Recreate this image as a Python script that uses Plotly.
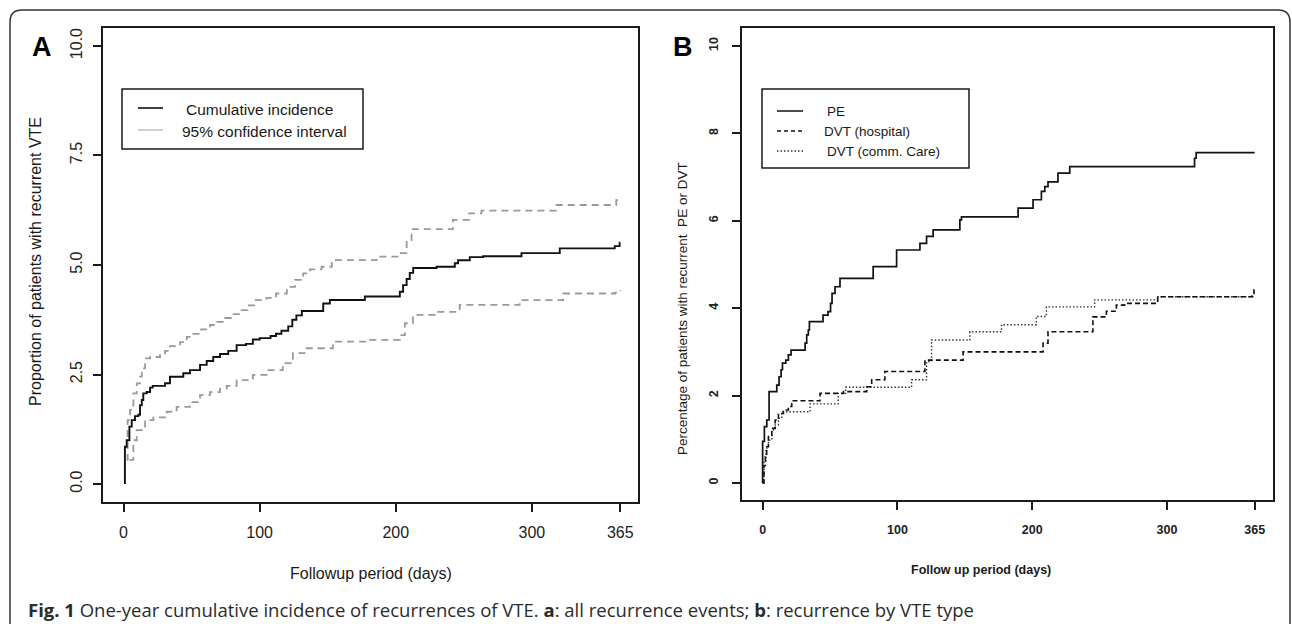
import plotly.graph_objects as go

# ---------------- data ----------------
# Panel A: cumulative incidence of recurrent VTE (%), step function
a_days = [1, 1, 2.3, 4.3, 6, 8.4, 10.9, 12.1, 13.4, 14.5, 17, 19.5, 21.4, 30.5, 34.1, 43.9, 48.8,
          56.2, 61.1, 65.9, 70.9, 76.9, 83.1, 90, 95, 100, 108, 112, 116, 121, 124, 127, 131,
          146.7, 151.6, 177.3, 203, 205.4, 208, 210.3, 212.8, 230, 243.4, 245.8, 254.4, 264.2,
          292.4, 320.5, 360.9, 364.5, 365]
a_cum = [0, 0.85, 1.0, 1.31, 1.46, 1.55, 1.58, 1.8, 1.92, 2.07, 2.1, 2.2, 2.24, 2.3, 2.45, 2.53, 2.6,
         2.72, 2.81, 2.9, 2.97, 3.04, 3.17, 3.2, 3.3, 3.33, 3.38, 3.43, 3.5, 3.6, 3.75, 3.85, 3.95,
         4.12, 4.2, 4.28, 4.39, 4.54, 4.68, 4.82, 4.93, 4.96, 5.04, 5.11, 5.18, 5.2,
         5.27, 5.38, 5.43, 5.51, 5.51]

a_up_days = [2.3, 3, 4.8, 7.2, 9.7, 12.1, 13.4, 15.8, 19.5, 26.8, 30.5, 34.1, 41.5, 46.4, 51.2, 57,
             63.5, 69, 74.5, 80, 85.5, 91, 97, 105, 112, 120, 126, 132, 137, 145.5, 153, 186, 203,
             208, 211.6, 242, 254, 263, 318, 362, 365]
a_upper = [0.55, 1.46, 1.69, 2.07, 2.3, 2.45, 2.64, 2.87, 2.9, 2.94, 3.04, 3.15, 3.24, 3.36, 3.43, 3.53,
           3.63, 3.7, 3.79, 3.88, 3.97, 4.08, 4.2, 4.25, 4.35, 4.5, 4.66, 4.81, 4.9, 4.96, 5.11, 5.19, 5.27,
           5.57, 5.82, 6.03, 6.18, 6.24, 6.37, 6.48, 6.52]

a_lo_days = [4.3, 7.2, 9.7, 13.4, 15.8, 21.9, 31.7, 39, 48.8, 56.2, 63.5, 70.9, 75.8, 83.1, 95, 105,
             117, 124.4, 134.5, 153.8, 178.6, 203, 206.7, 212.6, 230, 247, 291, 323, 361, 365]
a_lower = [0.55, 1.0, 1.23, 1.31, 1.46, 1.52, 1.65, 1.76, 1.87, 2.03, 2.1, 2.18, 2.24, 2.37, 2.49, 2.6,
           2.76, 2.99, 3.1, 3.25, 3.29, 3.4, 3.67, 3.86, 3.93, 4.09, 4.2, 4.35, 4.37, 4.43]

# Panel B: recurrence by VTE type (%)
pe_days = [0, 0, 1.3, 3.1, 4.8, 10.5, 12.2, 13.7, 14.7, 17.2, 19.1, 21.1, 31.5, 32.7, 33.9, 34.7,
           44.8, 48.5, 50.4, 51.5, 53.7, 57.4, 82, 99.4, 116.7, 121.6, 126.5, 146.3, 147.5, 189.5,
           200.6, 206.8, 209.3, 211.7, 219.1, 227.8, 320.4, 321.6, 365]
pe_vals = [0, 0.95, 1.29, 1.44, 2.09, 2.24, 2.43, 2.59, 2.74, 2.81, 2.93, 3.04, 3.2, 3.39, 3.5, 3.69,
           3.84, 3.92, 4.11, 4.34, 4.49, 4.68, 4.95, 5.33, 5.48, 5.64, 5.79, 6.02, 6.09, 6.29,
           6.48, 6.67, 6.78, 6.89, 7.09, 7.24, 7.43, 7.56, 7.56]

hosp_days = [0, 1, 2, 3, 4.3, 6.8, 9.3, 11.7, 15.4, 19.1, 21.6, 42.6, 60, 77.2, 80.9, 90.7, 120.4,
             148.7, 208, 211.7, 245, 255, 262.4, 268.5, 293, 363, 364.5, 365]
hosp_vals = [0, 0.4, 0.6, 0.83, 1.06, 1.25, 1.44, 1.59, 1.67, 1.75, 1.88, 2.05, 2.09, 2.2, 2.36, 2.55, 2.81,
             3.0, 3.2, 3.46, 3.8, 3.93, 4.07, 4.11, 4.26, 4.3, 4.44, 4.44]

comm_days = [0, 1, 2.5, 4.3, 6.8, 9.3, 11.7, 14.2, 35.2, 56.1, 61.6, 110.5, 121.6, 125.3, 153.7,
             177.2, 203, 210.5, 246.3, 293.2, 365]
comm_vals = [0, 0.5, 0.8, 0.98, 1.21, 1.33, 1.48, 1.63, 1.81, 2.05, 2.19, 2.36, 2.78, 3.27, 3.46,
             3.62, 3.81, 4.03, 4.19, 4.26, 4.26]

x_ticks = [0, 100, 200, 300, 365]
a_y_ticks = [0, 2.5, 5, 7.5, 10]
a_y_labels = ["0.0", "2.5", "5.0", "7.5", "10.0"]
b_y_ticks = [0, 2, 4, 6, 8, 10]
b_y_labels = ["0", "2", "4", "6", "8", "10"]

# ---------------- layout helpers ----------------
W, H = 1292, 624
def px(x):
    return x / W
def py(y):
    return 1 - y / H

FONT = "Liberation Sans, Arial, Helvetica, sans-serif"
AX = "#1a1a1a"

fig = go.Figure()

# Panel A traces
fig.add_trace(go.Scatter(x=a_up_days, y=a_upper, mode="lines", line_shape="hv",
                         line=dict(color="#9a9a9a", width=1.8, dash="7px,5px"),
                         xaxis="x", yaxis="y", showlegend=False))
fig.add_trace(go.Scatter(x=a_lo_days, y=a_lower, mode="lines", line_shape="hv",
                         line=dict(color="#9a9a9a", width=1.8, dash="7px,5px"),
                         xaxis="x", yaxis="y", showlegend=False))
fig.add_trace(go.Scatter(x=a_days, y=a_cum, mode="lines", line_shape="hv",
                         line=dict(color="#111111", width=1.9),
                         xaxis="x", yaxis="y", showlegend=False))

# Panel B traces
fig.add_trace(go.Scatter(x=comm_days, y=comm_vals, mode="lines", line_shape="hv",
                         line=dict(color="#333333", width=1.4, dash="1.5px,2px"),
                         xaxis="x2", yaxis="y2", showlegend=False))
fig.add_trace(go.Scatter(x=hosp_days, y=hosp_vals, mode="lines", line_shape="hv",
                         line=dict(color="#111111", width=1.6, dash="5px,3px"),
                         xaxis="x2", yaxis="y2", showlegend=False))
fig.add_trace(go.Scatter(x=pe_days, y=pe_vals, mode="lines", line_shape="hv",
                         line=dict(color="#111111", width=1.7),
                         xaxis="x2", yaxis="y2", showlegend=False))

axis_common = dict(showline=True, mirror=True, linecolor=AX, linewidth=1.5,
                   ticks="outside", ticklen=8, tickwidth=1.5, tickcolor=AX,
                   showgrid=False, zeroline=False, fixedrange=True)

fig.update_layout(
    width=W, height=H, margin=dict(l=0, r=0, t=0, b=0),
    paper_bgcolor="white", plot_bgcolor="white",
    xaxis=dict(domain=[px(103), px(638)], range=[-15.1, 378.0], tickvals=x_ticks,
               ticktext=[str(v) for v in x_ticks], anchor="y",
               tickfont=dict(family=FONT, size=16, color="#222"), ticklabelstandoff=7,
               **axis_common),
    yaxis=dict(domain=[py(502), py(28)], range=[-0.41, 10.41], tickvals=a_y_ticks,
               ticktext=a_y_labels, tickangle=-90, anchor="x",
               tickfont=dict(family=FONT, size=16, color="#222"), ticklabelstandoff=5,
               **axis_common),
    xaxis2=dict(domain=[px(742), px(1273)], range=[-15.3, 378.6], tickvals=x_ticks,
                ticktext=["<b>%d</b>" % v for v in x_ticks], anchor="y2",
                tickfont=dict(family=FONT, size=12.5, color="#222"), ticklabelstandoff=9,
                **axis_common),
    yaxis2=dict(domain=[py(500), py(28)], range=[-0.39, 10.41], tickvals=b_y_ticks,
                ticktext=["<b>%s</b>" % s for s in b_y_labels], tickangle=-90, anchor="x2",
                tickfont=dict(family=FONT, size=12.5, color="#222"), ticklabelstandoff=9,
                **axis_common),
)

ann = []
def text(x, y, s, size, angle=0, xanchor="center", family=FONT, color="#1a1a1a"):
    ann.append(dict(x=px(x), y=py(y), xref="paper", yref="paper", text=s, showarrow=False,
                    textangle=angle, xanchor=xanchor, yanchor="middle",
                    font=dict(family=family, size=size, color=color)))

# panel letters
text(42, 47, "<b>A</b>", 27, color="#000")
text(683, 47, "<b>B</b>", 27, color="#000")
# axis titles
text(35, 262, "Proportion of patients with recurrent VTE", 16, angle=-90)
text(371, 573, "Followup period (days)", 16)
text(682, 309, "Percentage of patients with recurrent \u00a0PE or DVT", 13.5, angle=-90)
text(981, 570, "<b>Follow up period (days)</b>", 12.5)
# legend A
text(184, 109, "Cumulative incidence", 15.5, xanchor="left")
text(180, 131, "95% confidence interval", 15.5, xanchor="left")
# legend B
text(825, 111, "PE", 13.5, xanchor="left")
text(822, 131, "DVT (hospital)", 13.5, xanchor="left")
text(825, 151, "DVT (comm. Care)", 13.5, xanchor="left")
# caption
text(26, 609, "<b>Fig. 1</b> One-year cumulative incidence of recurrences of VTE. <b>a</b>: all recurrence events; "
     "<b>b</b>: recurrence by VTE type", 18.5, xanchor="left", family="Open Sans, Noto Sans, sans-serif",
     color="#2b2b2b")
fig.update_layout(annotations=ann)

shapes = []
def line(x0, y0, x1, y1, color, width, dash="solid"):
    shapes.append(dict(type="line", xref="paper", yref="paper", x0=px(x0), y0=py(y0), x1=px(x1), y1=py(y1),
                       line=dict(color=color, width=width, dash=dash)))
def rect(x0, y0, x1, y1):
    shapes.append(dict(type="rect", xref="paper", yref="paper", x0=px(x0), y0=py(y0), x1=px(x1), y1=py(y1),
                       line=dict(color="#1a1a1a", width=1.5), fillcolor="rgba(0,0,0,0)"))

# outer frame with rounded top corners
r = 12
path = ("M {a},{b} L {c},{d} Q {c},{e} {f},{e} L {g},{e} Q {h},{e} {h},{d} L {h},{b}").format(
    a=px(10), b=py(640), c=px(10), d=py(10 + r), e=py(10), f=px(10 + r), g=px(1290 - r), h=px(1290))
shapes.append(dict(type="path", xref="paper", yref="paper", path=path,
                   line=dict(color="#333333", width=1.5)))

# legend A
rect(122, 89, 363, 149)
line(138, 108, 163, 108, "#111111", 1.6)
line(138, 130, 163, 130, "#c4c4c4", 1.6)
# legend B
rect(762, 89, 969, 168)
line(777, 111, 803, 111, "#111111", 1.5)
line(777, 131, 803, 131, "#111111", 1.5, "4px,3px")
line(777, 151, 803, 151, "#333333", 1.3, "1.5px,2px")

fig.update_layout(shapes=shapes)

fig.write_html("out.html")
